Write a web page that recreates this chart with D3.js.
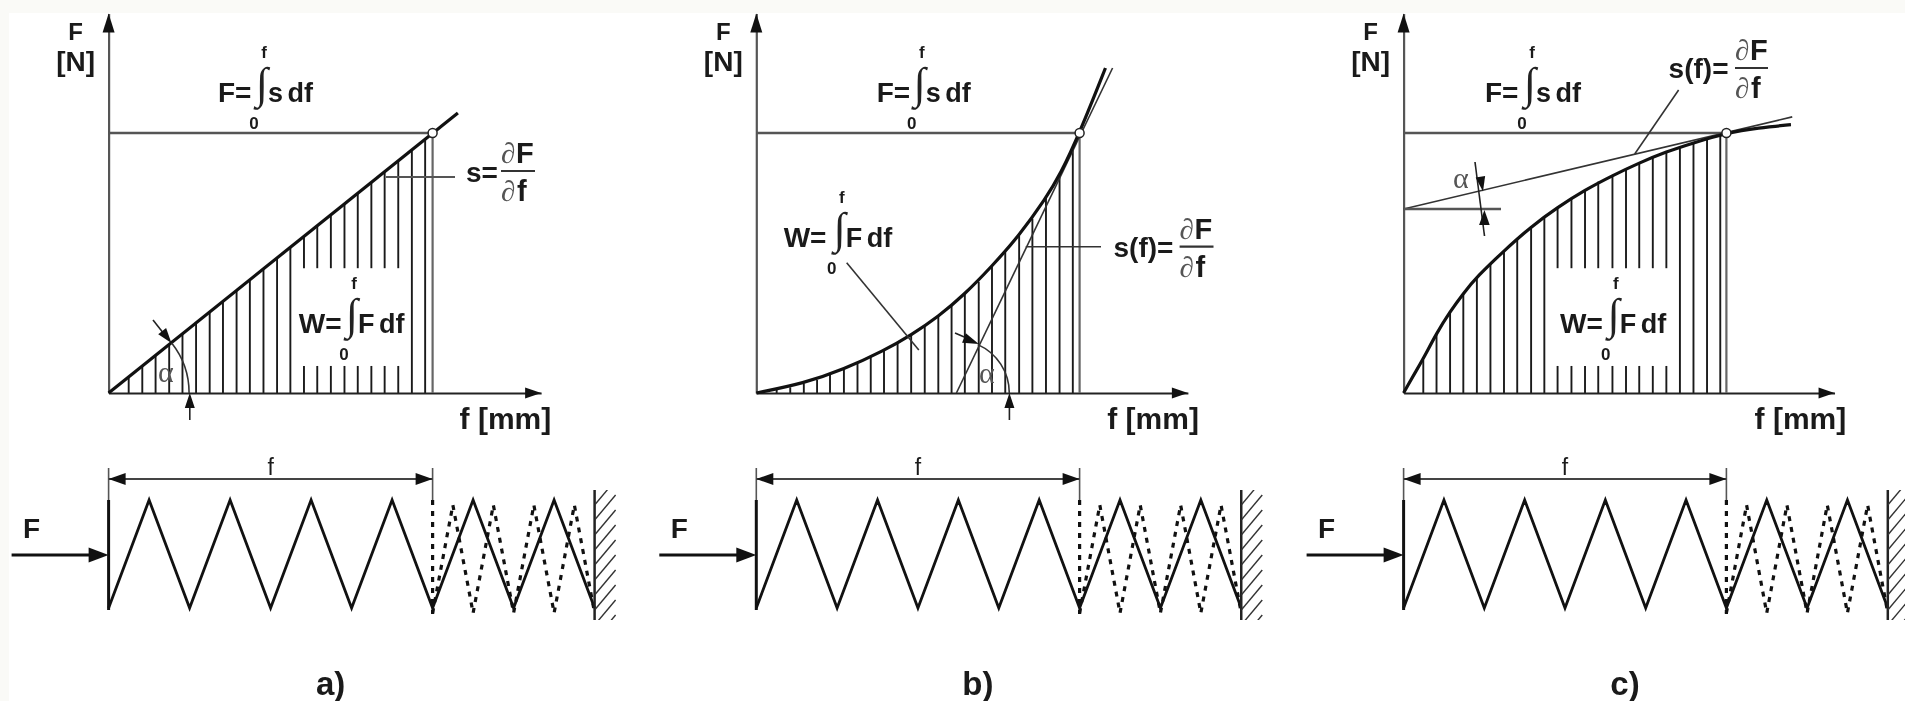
<!DOCTYPE html>
<html>
<head>
<meta charset="utf-8">
<script src="https://cdnjs.cloudflare.com/ajax/libs/d3/7.8.5/d3.min.js"></script>
<style>
    html, body { margin: 0; padding: 0; background: #ffffff; overflow: hidden; }
    svg { display: block; filter: blur(0.55px); }
    text { font-family: "Liberation Sans", Arial, sans-serif; font-weight: bold; fill: #1a1a1a; }
    .serif { font-family: "Liberation Serif", serif; font-weight: normal; fill: #555; }
    .thin { font-weight: normal; }
</style>
</head>
<body>
<div id="chart"></div>
<script>
// f and F are both read in percent of the marked working point (100 = the white dot)
var panelLabels = ["a)", "b)", "c)"];

var hatchF_a = [6.2, 10.4, 14.5, 18.7, 22.8, 27, 31.2, 35.3, 39.5, 43.6, 47.8, 52, 56.1, 60.3, 64.4, 68.6, 72.8, 76.9, 81.1, 85.2, 89.4, 93.6, 97.7];
var hatchH_a = [6.2, 10.4, 14.5, 18.7, 22.8, 27, 31.2, 35.3, 39.5, 43.6, 47.8, 52, 56.1, 60.3, 64.4, 68.6, 72.8, 76.9, 81.1, 85.2, 89.4, 93.6, 97.7];
var hatchF_b = [6.3, 10.5, 14.7, 18.8, 22.8, 27.1, 31.3, 35.4, 39.5, 43.7, 47.9, 52.1, 56.3, 60.4, 64.5, 68.8, 72.9, 77, 81.3, 85.4, 89.6, 93.8, 97.9];
var hatchH_b = [1.2, 2.2, 3.7, 5, 6.9, 9.1, 11.2, 14, 16.3, 19.1, 22.3, 25.8, 29.4, 33.5, 38.3, 42.8, 48.8, 54.4, 60.5, 67, 75, 84, 93.5];
var hatchF_c = [6.1, 10.2, 14.4, 18.5, 22.7, 26.9, 31.1, 35.2, 39.5, 43.6, 47.7, 52, 56.2, 60.3, 64.7, 68.9, 73, 77.2, 81.4, 85.6, 89.8, 94, 98.1];
var hatchH_c = [12.7, 22.9, 31.3, 38.3, 44.7, 49.9, 54.7, 59.5, 64, 67.6, 71.4, 74.6, 78.1, 81.3, 83.3, 86.2, 88.5, 90.6, 92.6, 94.2, 95.9, 97.4, 99.4];

var curveF_a = [0, 107.8];
var curveH_a = [0, 107.7];
var curveF_b = [0, 14.7, 27.1, 39.5, 47.9, 56.3, 64.5, 72.9, 81.3, 89.6, 94, 100, 108];
var curveH_b = [0, 3.7, 9.1, 16.3, 22.3, 29.4, 38, 48.8, 60.5, 75, 84, 100, 125];
var curveF_c = [0, 1.5, 3.6, 6.1, 10.2, 14.4, 18.5, 22.7, 31.1, 39.5, 47.7, 56.2, 64.7, 73, 81.4, 89.8, 100, 110, 120];
var curveH_c = [0, 3.4, 7.9, 13.2, 23, 31.3, 38.3, 44.7, 54.7, 64, 71.4, 78.1, 83.6, 88.5, 92.8, 96.2, 100, 102, 103.2];

// tangent lines (s)
var tangentF_b = [61.9, 110.2];
var tangentH_b = [0, 125];
var tangentF_c = [0, 120.4];
var tangentH_c = [70.8, 106.2];

// spring nodes: position along f, 0 = low end, 1 = high end
var springF = [0, 12.5, 25, 37.5, 50, 62.5, 75, 87.5, 100, 112.5, 125, 137.5, 150];
var springY = [0, 1, 0, 1, 0, 1, 0, 1, 0, 1, 0, 1, 0];
var releasedF = [100, 106.25, 112.5, 118.75, 125, 131.25, 137.5, 143.75, 150];
var releasedY = [0, 1, 0, 1, 0, 1, 0, 1, 0];

var width = 1905, height = 701;
var baseY = 393, levelY = 133;

var svg = d3.select("#chart").append("svg")
    .attr("width", width)
    .attr("height", height);

// scan margin of the original picture
svg.append("rect").attr("width", width).attr("height", height).attr("fill", "#fafaf7");
svg.append("rect").attr("x", 9).attr("y", 13).attr("width", width - 9).attr("height", height - 13).attr("fill", "#ffffff");

var yScale = d3.scaleLinear().domain([0, 100]).range([baseY, levelY]);
var springScale = d3.scaleLinear().domain([0, 1]).range([608, 500]);
var releasedScale = d3.scaleLinear().domain([0, 1]).range([613, 505]);

function zipXY(a, b) {
    return a.map(function (d, i) { return [d, b[i]]; });
}

var panels = [
    {
        label: panelLabels[0], x0: 108.6, x1: 432.6,
        hatch: zipXY(hatchF_a, hatchH_a), curve: zipXY(curveF_a, curveH_a),
        gap: [60, 90], tangent: null
    },
    {
        label: panelLabels[1], x0: 756.3, x1: 1079.6,
        hatch: zipXY(hatchF_b, hatchH_b), curve: zipXY(curveF_b, curveH_b),
        gap: null, tangent: zipXY(tangentF_b, tangentH_b)
    },
    {
        label: panelLabels[2], x0: 1403.6, x1: 1726.4,
        hatch: zipXY(hatchF_c, hatchH_c), curve: zipXY(curveF_c, curveH_c),
        gap: [47, 82], tangent: zipXY(tangentF_c, tangentH_c)
    }
];

function arrowHead(g, tipX, tipY, angle, len, hw) {
    // angle in degrees, direction the arrow points to
    var path = d3.path();
    path.moveTo(0, 0);
    path.lineTo(-len, -hw);
    path.lineTo(-len, hw);
    path.closePath();
    g.append("path")
        .attr("d", path.toString())
        .attr("transform", "translate(" + tipX + "," + tipY + ") rotate(" + angle + ")")
        .attr("fill", "#111");
}

function seg(g, x1, y1, x2, y2, color, w) {
    return g.append("line")
        .attr("x1", x1).attr("y1", y1).attr("x2", x2).attr("y2", y2)
        .attr("stroke", color).attr("stroke-width", w);
}

function label(g, str, x, y, size, anchor, cls) {
    return g.append("text")
        .attr("x", x).attr("y", y)
        .attr("font-size", size)
        .attr("text-anchor", anchor || "start")
        .attr("class", cls || null)
        .text(str);
}

// F= integral(s df) block: x is the integral sign
function integral(g, left, x, base, lhs, rhs) {
    label(g, lhs, left, base, 28);
    label(g, "\u222B", x + 1, base - 4, 44, "middle", "serif").style("fill", "#222");
    label(g, "f", x + 3, base - 44, 17, "middle");
    label(g, "0", x - 7, base + 27, 17, "middle");
    label(g, rhs, x + 7, base, 27).style("word-spacing", "-3px");
}

// s = dF/df block
function fraction(g, left, barX0, barX1, barY, base, lhs) {
    label(g, lhs, left, base, 28);
    seg(g, barX0, barY, barX1, barY, "#333", 2.2);
    label(g, "\u2202", barX0, barY - 8, 29, "start", "serif");
    label(g, "F", barX0 + 15, barY - 8, 29);
    label(g, "\u2202", barX0, barY + 30, 29, "start", "serif");
    label(g, "f", barX0 + 16, barY + 30, 29);
}

panels.forEach(function (p) {
    var g = svg.append("g");
    var x = d3.scaleLinear().domain([0, 100]).range([p.x0, p.x1]);

    // hatching under the curve
    var hatchSegs = [];
    p.hatch.forEach(function (d) {
        if (p.gap && d[0] > p.gap[0] && d[0] < p.gap[1]) {
            hatchSegs.push([d[0], 0, 10.4]);
            hatchSegs.push([d[0], 48, d[1]]);
        } else {
            hatchSegs.push([d[0], 0, d[1]]);
        }
    });
    g.selectAll(".hatch").data(hatchSegs).enter().append("line")
        .attr("class", "hatch")
        .attr("x1", function (d) { return x(d[0]); })
        .attr("x2", function (d) { return x(d[0]); })
        .attr("y1", function (d) { return yScale(d[1]); })
        .attr("y2", function (d) { return yScale(d[2]); })
        .attr("stroke", "#1a1a1a")
        .attr("stroke-width", 1.9);

    // axes, no ticks, only the domain line
    var xAxisScale = x.copy().domain([0, 133.5]).range([x(0), x(133.5)]);
    var yAxisScale = yScale.copy().domain([0, 146]).range([yScale(0), yScale(146)]);
    var xAxis = g.append("g").attr("transform", "translate(0," + baseY + ")")
        .call(d3.axisBottom(xAxisScale).tickValues([]).tickSizeOuter(0));
    var yAxis = g.append("g").attr("transform", "translate(" + p.x0 + ",0)")
        .call(d3.axisLeft(yAxisScale).tickValues([]).tickSizeOuter(0));
    xAxis.select(".domain").attr("stroke", "#222").attr("stroke-width", 2.2);
    yAxis.select(".domain").attr("stroke", "#555").attr("stroke-width", 2.2);
    arrowHead(g, x(133.5), baseY, 0, 16, 5.5);
    arrowHead(g, p.x0, yScale(146), -90, 19, 6);

    // working point guide lines
    seg(g, x(0), yScale(100), x(100), yScale(100), "#555", 2.4);
    seg(g, x(100), yScale(100), x(100), yScale(0), "#666", 2.2);

    if (p.tangent) {
        seg(g, x(p.tangent[0][0]), yScale(p.tangent[0][1]), x(p.tangent[1][0]), yScale(p.tangent[1][1]), "#333", 1.6);
    }

    var line = d3.line()
        .x(function (d) { return x(d[0]); })
        .y(function (d) { return yScale(d[1]); })
        .curve(d3.curveBasis);
    g.append("path")
        .attr("d", line(p.curve))
        .attr("fill", "none")
        .attr("stroke", "#111")
        .attr("stroke-width", 3.2);

    g.append("circle")
        .attr("cx", x(100)).attr("cy", yScale(100)).attr("r", 4.5)
        .attr("fill", "#fff").attr("stroke", "#222").attr("stroke-width", 1.5);

    // axis titles
    label(g, "F", p.x0 - 33, 40, 24, "middle");
    label(g, "[N]", p.x0 - 33, 71, 28, "middle");
    label(g, "f [mm]", p.x0 + 351, 429, 30);

    // spring below, solid = loaded, dashed = released
    var springLine = d3.line()
        .x(function (d) { return x(d[0]); })
        .y(function (d) { return springScale(d[1]); });
    var releasedLine = d3.line()
        .x(function (d) { return x(d[0]); })
        .y(function (d) { return releasedScale(d[1]); });
    g.append("path").attr("d", releasedLine(zipXY(releasedF, releasedY)))
        .attr("fill", "none").attr("stroke", "#111").attr("stroke-width", 3.2).attr("stroke-dasharray", "5 6");
    seg(g, x(100), 500, x(100), 614, "#111", 3.2).attr("stroke-dasharray", "5 6");
    g.append("path").attr("d", springLine(zipXY(springF, springY)))
        .attr("fill", "none").attr("stroke", "#111").attr("stroke-width", 2.8).attr("stroke-linejoin", "miter");

    // left plate, dimension f and force F
    seg(g, x(0), 500, x(0), 610, "#111", 3);
    seg(g, x(0), 468, x(0), 500, "#555", 1.6);
    seg(g, x(100), 468, x(100), 500, "#555", 1.6);
    seg(g, x(0), 479, x(100), 479, "#444", 2.2);
    arrowHead(g, x(0), 479, 180, 17, 6);
    arrowHead(g, x(100), 479, 0, 17, 6);
    label(g, "f", (x(0) + x(100)) / 2, 475, 23, "middle", "thin");
    seg(g, x(0) - 97, 555, x(0) - 15, 555, "#111", 2.8);
    arrowHead(g, x(0), 555, 0, 20, 7.5);
    label(g, "F", x(0) - 77, 538, 28, "middle");

    // wall
    var wallX = x(150);
    seg(g, wallX, 490, wallX, 620, "#222", 2.5);
    var clipId = "wall" + panels.indexOf(p);
    svg.append("clipPath").attr("id", clipId).append("rect")
        .attr("x", wallX).attr("y", 490).attr("width", 22).attr("height", 130);
    g.append("g").attr("clip-path", "url(#" + clipId + ")")
        .selectAll("line").data(d3.range(505, 650, 15)).enter().append("line")
        .attr("x1", wallX).attr("x2", wallX + 21)
        .attr("y1", function (d) { return d; })
        .attr("y2", function (d) { return d - 25; })
        .attr("stroke", "#333").attr("stroke-width", 1.4);

    label(g, p.label, (x(0) + x(100)) / 2 + 60, 695, 33, "middle");
});

// panel a annotations
var ga = svg.append("g");
integral(ga, 218, 261, 102, "F=", "s df");
integral(ga, 298.8, 351, 333, "W=", "F df");
seg(ga, 386, 177, 455, 177, "#555", 2);
fraction(ga, 466, 501, 535, 171, 182, "s=");
ga.append("path").attr("d", d3.arc()({ innerRadius: 80.5, outerRadius: 80.5, startAngle: 0.9, endAngle: Math.PI / 2 }))
    .attr("transform", "translate(108.6,393)").attr("fill", "none").attr("stroke", "#333").attr("stroke-width", 1.6);
seg(ga, 153, 320, 168, 339, "#222", 1.6);
arrowHead(ga, 171.4, 343, 52, 15, 5);
seg(ga, 189.8, 420, 189.8, 400, "#222", 1.6);
arrowHead(ga, 189.8, 393, -90, 15, 5);
label(ga, "\u03B1", 158, 382, 30, "start", "serif");

// panel b annotations
var gb = svg.append("g");
integral(gb, 876.7, 918.8, 102, "F=", "s df");
integral(gb, 783.7, 838.8, 247, "W=", "F df");
seg(gb, 846.7, 262.7, 918.8, 350, "#333", 1.6);
seg(gb, 1025.7, 246.7, 1101, 246.7, "#333", 1.6);
fraction(gb, 1113.5, 1179.6, 1213.5, 246.7, 257, "s(f)=");
gb.append("path").attr("d", d3.arc()({ innerRadius: 53, outerRadius: 53, startAngle: 0.42, endAngle: Math.PI / 2 }))
    .attr("transform", "translate(956.3,393)").attr("fill", "none").attr("stroke", "#333").attr("stroke-width", 1.6);
seg(gb, 955, 333, 970, 339.5, "#222", 1.6);
arrowHead(gb, 978.8, 344, 22, 16, 5);
seg(gb, 1009.4, 420, 1009.4, 400, "#222", 1.6);
arrowHead(gb, 1009.4, 393, -90, 15, 5);
label(gb, "\u03B1", 979, 383, 30, "start", "serif");

// panel c annotations
var gc = svg.append("g");
integral(gc, 1485, 1529, 102, "F=", "s df");
integral(gc, 1560, 1612.8, 333, "W=", "F df");
seg(gc, 1678.6, 90, 1634.7, 154, "#333", 1.6);
fraction(gc, 1668.6, 1735, 1768, 68, 78, "s(f)=");
seg(gc, 1403.6, 209, 1501, 209, "#555", 2.4);
seg(gc, 1475, 162, 1484.5, 236, "#222", 1.6);
arrowHead(gc, 1483, 191.5, 80, 15, 4.8);
arrowHead(gc, 1484.4, 210, -90, 15, 5.3);
label(gc, "\u03B1", 1453, 188, 30, "start", "serif");
</script>
</body>
</html>
